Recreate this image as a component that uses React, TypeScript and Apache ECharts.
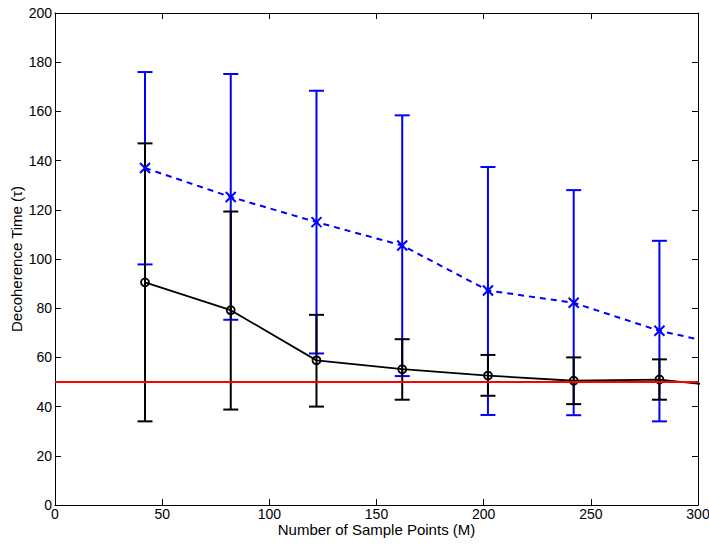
import React, { useEffect, useRef } from "react";
import * as echarts from "echarts";

const xValues = [42, 82, 122, 162, 202, 242, 282, 322];
const blackMean = [90.5, 79.2, 58.8, 55.2, 52.6, 50.5, 51, 47.3];
const blackLow = [34, 38.8, 40, 42.8, 44.4, 41, 42.8];
const blackHigh = [147, 119.3, 77.3, 67.4, 61, 60, 59.2];
const blueMean = [137, 125.2, 115, 105.5, 87.2, 82.2, 70.8, 63.2];
const blueLow = [97.8, 75.3, 61.6, 52.4, 36.6, 36.5, 34];
const blueHigh = [176, 175.2, 168.4, 158.4, 137.4, 128, 107.4];
const refLevel = 50;
const xTicks = [0, 50, 100, 150, 200, 250, 300];
const yTicks = [0, 20, 40, 60, 80, 100, 120, 140, 160, 180, 200];

const BLUE = "#0000ff";
const BLACK = "#000000";

function errorBars(low: number[], high: number[], color: string, z: number) {
  const data = low.map((l, i) => [xValues[i], l, high[i]]);
  return {
    type: "custom",
    z,
    clip: true,
    data,
    renderItem: (params: any, api: any) => {
      const x = api.value(0);
      const lo = api.coord([x, api.value(1)]);
      const hi = api.coord([x, api.value(2)]);
      const half = 7.5;
      const style = { stroke: color, lineWidth: 2 };
      return {
        type: "group",
        children: [
          { type: "line", shape: { x1: lo[0], y1: lo[1], x2: hi[0], y2: hi[1] }, style },
          { type: "line", shape: { x1: lo[0] - half, y1: lo[1], x2: lo[0] + half, y2: lo[1] }, style },
          { type: "line", shape: { x1: hi[0] - half, y1: hi[1], x2: hi[0] + half, y2: hi[1] }, style },
        ],
      };
    },
  };
}

export default function App() {
  const ref = useRef<HTMLDivElement>(null);
  useEffect(() => {
    if (!ref.current) return;
    const chart = echarts.init(ref.current, undefined, { renderer: "svg" });
    const font = "Liberation Sans, Arial, sans-serif";
    const axisLine = { show: true, onZero: false, lineStyle: { color: BLACK, width: 1 } };
    const tick = { show: true, inside: true, length: 6, lineStyle: { color: BLACK } };
    const xMin = xTicks[0];
    const xMax = xTicks[xTicks.length - 1];
    const xInt = xTicks[1] - xTicks[0];
    const yMin = yTicks[0];
    const yMax = yTicks[yTicks.length - 1];
    const yInt = yTicks[1] - yTicks[0];
    chart.setOption({
      animation: false,
      backgroundColor: "#ffffff",
      grid: { left: 55, right: 11, top: 13, bottom: 40, containLabel: false, outerBoundsMode: "none" },
      xAxis: [
        {
          type: "value",
          min: xMin,
          max: xMax,
          interval: xInt,
          name: "Number of Sample Points (M)",
          nameLocation: "middle",
          nameGap: 17,
          nameMoveOverlap: false,
          nameTextStyle: { fontFamily: font, fontSize: 15, color: BLACK },
          axisLine,
          axisTick: tick,
          axisLabel: { fontFamily: font, fontSize: 14, color: BLACK, margin: 2 },
          splitLine: { show: false },
        },
        {
          type: "value",
          position: "top",
          min: xMin,
          max: xMax,
          interval: xInt,
          axisLine,
          axisTick: tick,
          axisLabel: { show: false },
          splitLine: { show: false },
        },
      ],
      yAxis: [
        {
          type: "value",
          min: yMin,
          max: yMax,
          interval: yInt,
          name: "Decoherence Time (τ)",
          nameLocation: "middle",
          nameGap: 31,
          nameMoveOverlap: false,
          nameTextStyle: { fontFamily: font, fontSize: 15, color: BLACK },
          axisLine,
          axisTick: tick,
          axisLabel: { fontFamily: font, fontSize: 14, color: BLACK, margin: 3 },
          splitLine: { show: false },
        },
        {
          type: "value",
          position: "right",
          min: yMin,
          max: yMax,
          interval: yInt,
          axisLine,
          axisTick: tick,
          axisLabel: { show: false },
          splitLine: { show: false },
        },
      ],
      series: [
        errorBars(blueLow, blueHigh, BLUE, 2),
        errorBars(blackLow, blackHigh, BLACK, 3),
        {
          type: "line",
          z: 4,
          clip: true,
          data: xValues.map((x, i) => [x, blueMean[i]]),
          symbol: "path://M0,0L10,10M10,0L0,10",
          symbolSize: 10,
          showSymbol: true,
          itemStyle: { color: "none", borderColor: BLUE, borderWidth: 2 },
          lineStyle: { color: BLUE, width: 2, type: [6, 5] },
        },
        {
          type: "line",
          z: 5,
          clip: true,
          data: xValues.map((x, i) => [x, blackMean[i]]),
          symbol: "circle",
          symbolSize: 8,
          itemStyle: { color: "none", borderColor: BLACK, borderWidth: 1.8 },
          lineStyle: { color: BLACK, width: 1.8 },
        },
        {
          type: "line",
          z: 6,
          clip: true,
          data: [[xMin, refLevel], [xMax, refLevel]],
          symbol: "none",
          lineStyle: { color: "#ff0000", width: 2 },
        },
      ],
    });
    return () => chart.dispose();
  }, []);
  return <div ref={ref} style={{ width: 709, height: 545, position: "absolute", left: 0, top: 0 }} />;
}
